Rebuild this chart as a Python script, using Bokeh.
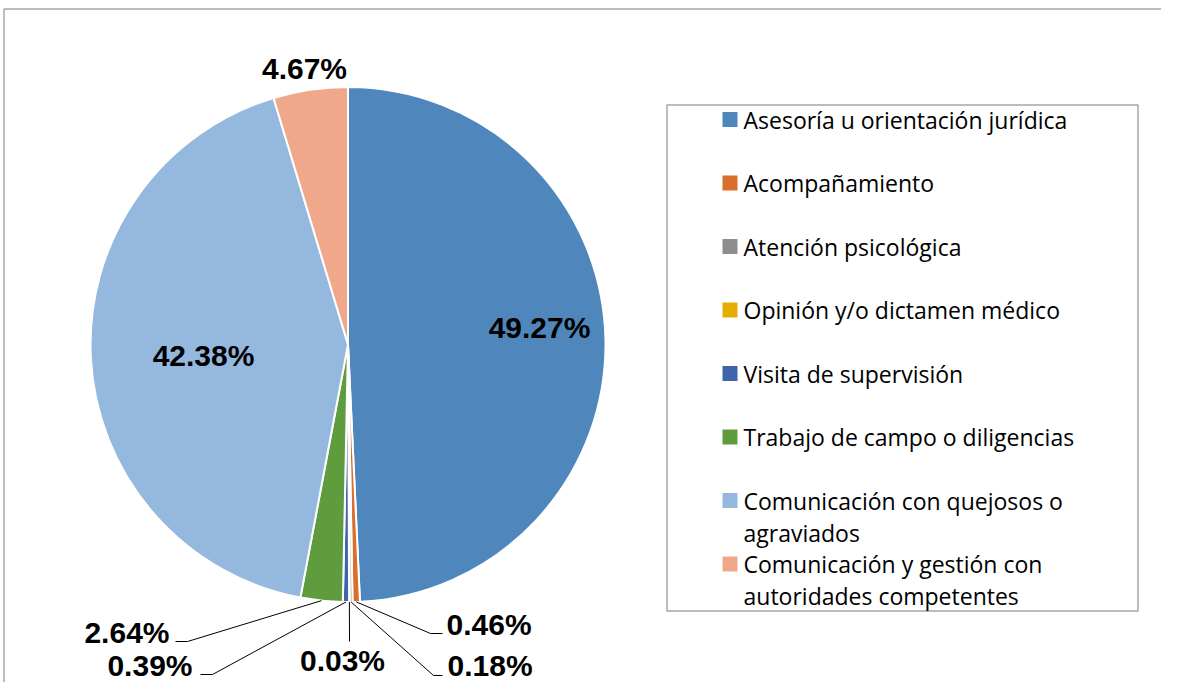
import math
import textwrap
from bokeh.plotting import figure
from bokeh.models import Range1d
from bokeh.embed import file_html
from bokeh.resources import INLINE
from bokeh.core.properties import value

# ---------------- data ----------------
categories = [
    "Asesoría u orientación jurídica",
    "Acompañamiento",
    "Atención psicológica",
    "Opinión y/o dictamen médico",
    "Visita de supervisión",
    "Trabajo de campo o diligencias",
    "Comunicación con quejosos o agraviados",
    "Comunicación y gestión con autoridades competentes",
]
shares = [49.27, 0.46, 0.18, 0.03, 0.39, 2.64, 42.38, 4.67]
colors = ["#4F87BD", "#DA6E2D", "#8E8E8E", "#E5AD00", "#3E64AC", "#5F9C3E", "#95B8DF", "#F0A88A"]

# ---------------- layout (picture pixel coords) ----------------
W, H = 1161, 682
CX, CY, R = 347.5, 344, 257.5
LABEL_FONT = value("Liberation Sans")
LEGEND_FONT = value("Open Sans")

p = figure(width=W, height=H, x_range=Range1d(0, W), y_range=Range1d(-H, 0),
           output_backend="svg", toolbar_location=None, min_border=0,
           x_axis_location=None, y_axis_location=None, outline_line_color=None,
           background_fill_color="white", border_fill_color="white")
p.xgrid.visible = False
p.ygrid.visible = False

# outer chart border (top and left visible)
p.line(x=[3.5, W], y=[-8.5, -8.5], line_color="#A6A6A6", line_width=1.5)
p.line(x=[3.5, 3.5], y=[-8.5, -H], line_color="#A6A6A6", line_width=1.5)

total = sum(shares)
fracs = [s / total for s in shares]
starts, ends, mids = [], [], []
cum = 0.0
for f in fracs:
    starts.append(math.pi / 2 - 2 * math.pi * cum)
    ends.append(math.pi / 2 - 2 * math.pi * (cum + f))
    mids.append(math.pi / 2 - 2 * math.pi * (cum + f / 2))
    cum += f

p.wedge(x=CX, y=-CY, radius=R, start_angle=starts, end_angle=ends, direction="clock",
        fill_color=colors, line_color="white", line_width=2)

labels = [f"{s:.2f}%" for s in shares]

# label placement: (x, y, align) in picture pixels; leader (elbow, end) or None
placement = [
    (539, 327, "center", None),
    (446, 624, "left", [(430, 633), (442, 633)]),
    (447, 665, "left", [(433, 675), (442, 675)]),
    (342, 660, "center", [(349, 641)]),
    (192, 665, "right", [(212, 674), (200, 674)]),
    (169, 632, "right", [(187, 641), (175, 641)]),
    (203, 355, "center", None),
    (304, 68, "center", None),
]

lx, ly = [], []
for i, (x, y, al, leader) in enumerate(placement):
    p.text(x=[x], y=[-y], text=[labels[i]], text_font=LABEL_FONT, text_font_style="bold",
           text_font_size="30px", text_align=al, text_baseline="middle", text_color="black")
    if leader:
        sx = CX + R * math.cos(mids[i])
        sy = CY - R * math.sin(mids[i])
        pts = [(sx, sy)] + leader
        lx.append([pt[0] for pt in pts])
        ly.append([-pt[1] for pt in pts])
p.multi_line(xs=lx, ys=ly, line_color="black", line_width=1)

# ---------------- legend ----------------
p.quad(left=666.5, right=1137.5, top=-104.5, bottom=-610.5, fill_color=None,
       line_color="#A6A6A6", line_width=1.5)

ys, tx, ty = [], [], []
y0, step, line_h = 119, 63.5, 32
for i, name in enumerate(categories):
    yc = y0 + step * i
    ys.append(-yc)
    for j, ln in enumerate(textwrap.wrap(name, 31)):
        tx.append(ln)
        ty.append(-(yc + j * line_h))
p.rect(x=729.5, y=ys, width=15, height=15, fill_color=colors, line_color=None)
p.text(x=743, y=ty, text=tx, text_font=LEGEND_FONT, text_font_size="23px",
       text_align="left", text_baseline="middle", text_color="black")

open("out.html", "w").write(file_html(p, INLINE))
